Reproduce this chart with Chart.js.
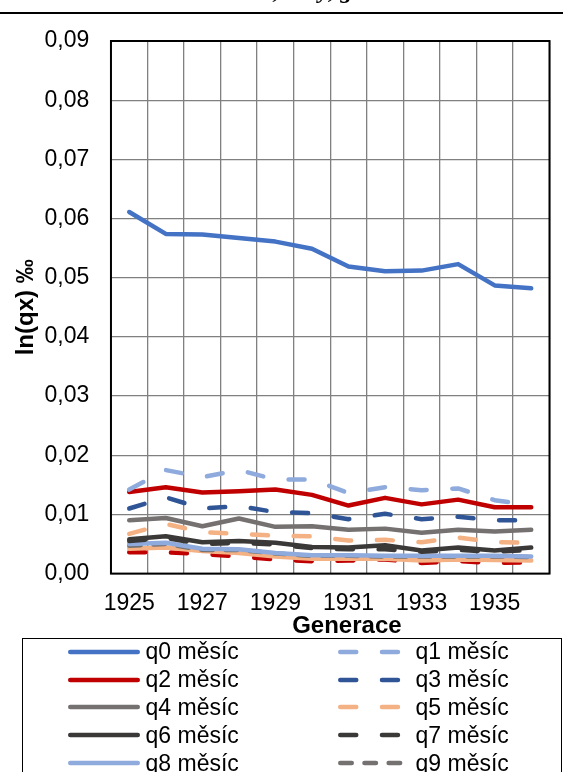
<!DOCTYPE html>
<html>
<head>
<meta charset="utf-8">
<script src="https://cdn.jsdelivr.net/npm/chart.js@4.4.0/dist/chart.umd.min.js"></script>
<style>
  html, body { margin: 0; padding: 0; background: #fff; overflow: hidden; }
  #stranka { position: relative; width: 563px; height: 772px; overflow: hidden; }
  #nadpis { position: absolute; left: 0; top: 0; width: 563px; height: 12px; border-bottom: 2px solid #000; overflow: hidden; }
  #nadpis span { position: absolute; left: 0; top: -22px; width: 563px; text-align: center; white-space: nowrap;
                 font: italic bold 24px/24px "Liberation Serif", serif; }
  #graf { position: absolute; left: 0; top: 0; }
  #legenda { position: absolute; left: 22px; top: 638px; width: 538px; height: 200px; border: 1.5px solid #000;
             font: 23px "Liberation Sans", Arial, sans-serif; color: #000; }
  .polozka { position: absolute; height: 28px; display: flex; align-items: center; white-space: nowrap; }
  .polozka svg { display: block; }
  .polozka span { margin-left: 6px; }
</style>
</head>
<body>
<div id="stranka">
  <canvas id="graf" width="563" height="641"></canvas>
  <div id="nadpis"><span>Úmrtnost dle měsíce věku, ženy, generace 1925–1936</span></div>
  <div id="legenda"></div>
</div>
<script>
// DATA: kvocienty úmrtnosti podle měsíce věku, generace 1925-1936
var roky = ['1925', '1926', '1927', '1928', '1929', '1930', '1931', '1932', '1933', '1934', '1935', '1936'];
var yPopisky = ['0,00', '0,01', '0,02', '0,03', '0,04', '0,05', '0,06', '0,07', '0,08', '0,09'];
var nazvy = ['q0 měsíc', 'q1 měsíc', 'q2 měsíc', 'q3 měsíc', 'q4 měsíc', 'q5 měsíc',
             'q6 měsíc', 'q7 měsíc', 'q8 měsíc', 'q9 měsíc', 'q10 měsíc', 'q11 měsíc'];

var q0 = [0.0611, 0.0574, 0.0573, 0.0567, 0.0561, 0.0549, 0.0519, 0.0511, 0.0512, 0.0523, 0.0487, 0.0482];
var q1 = [0.0142, 0.0175, 0.0163, 0.0175, 0.0159, 0.0159, 0.0136, 0.0146, 0.0141, 0.0144, 0.0124, 0.0116];
var q2 = [0.0138, 0.0146, 0.0137, 0.0139, 0.0142, 0.0133, 0.0115, 0.0128, 0.0117, 0.0125, 0.0112, 0.0112];
var q3 = [0.0110, 0.0129, 0.0110, 0.0114, 0.0104, 0.0102, 0.0092, 0.0101, 0.0092, 0.0096, 0.0090, 0.0090];
var q4 = [0.0090, 0.0094, 0.0080, 0.0093, 0.0079, 0.0080, 0.0074, 0.0076, 0.0069, 0.0074, 0.0071, 0.0074];
var q5 = [0.0067, 0.0084, 0.0070, 0.0067, 0.0064, 0.0063, 0.0056, 0.0057, 0.0053, 0.0061, 0.0053, 0.0052];
var q6 = [0.0058, 0.0063, 0.0053, 0.0055, 0.0052, 0.0045, 0.0044, 0.0048, 0.0039, 0.0044, 0.0039, 0.0044];
var q7 = [0.0055, 0.0060, 0.0050, 0.0052, 0.0049, 0.0043, 0.0041, 0.0041, 0.0037, 0.0040, 0.0037, 0.0040];
var q8 = [0.0050, 0.0052, 0.0042, 0.0041, 0.0035, 0.0031, 0.0031, 0.0030, 0.0030, 0.0030, 0.0030, 0.0029];
var q9 = [0.0047, 0.0050, 0.0040, 0.0040, 0.0034, 0.0030, 0.0030, 0.0029, 0.0029, 0.0029, 0.0029, 0.0028];
var q10 = [0.0042, 0.0044, 0.0038, 0.0035, 0.0029, 0.0025, 0.0025, 0.0025, 0.0022, 0.0024, 0.0023, 0.0022];
var q11 = [0.0036, 0.0036, 0.0033, 0.0029, 0.0024, 0.0021, 0.0022, 0.0024, 0.0018, 0.0021, 0.0018, 0.0019];

var rady = [q0, q1, q2, q3, q4, q5, q6, q7, q8, q9, q10, q11];

// styly car
var barvy = ['#4472C4', '#8FAADC', '#C00000', '#2F5597', '#767171', '#F4B183',
             '#3B3838', '#3B3838', '#8FAADC', '#767171', '#F4B183', '#C00000'];
var dlouhe = [16, 25.7];
var kratke = [11.5, 12.7];
var carky = [[], dlouhe, [], dlouhe, [], dlouhe, [], dlouhe, [], kratke, [], dlouhe];

var pismo = '"Liberation Sans", Arial, sans-serif';
Chart.defaults.color = '#000';
Chart.defaults.font.family = pismo;

var datasety = rady.map(function (data, i) {
  return {
    label: nazvy[i],
    data: data,
    borderColor: barvy[i],
    backgroundColor: barvy[i],
    borderWidth: 4.5,
    borderDash: carky[i],
    borderCapStyle: 'round',
    borderJoinStyle: 'round',
    pointRadius: 0,
    tension: 0,
    fill: false
  };
});

// ramecek kolem plochy grafu
var ramecek = {
  id: 'ramecek',
  beforeDatasetsDraw: function (chart) {
    var a = chart.chartArea, ctx = chart.ctx;
    ctx.save();
    ctx.strokeStyle = '#000';
    ctx.lineWidth = 2;
    ctx.strokeRect(a.left, a.top, a.right - a.left, a.bottom - a.top);
    ctx.restore();
  }
};

var ctx = document.getElementById('graf').getContext('2d');
var graf = new Chart(ctx, {
  type: 'line',
  data: { labels: roky, datasets: datasety },
  plugins: [ramecek],
  options: {
    responsive: false,
    animation: false,
    layout: { padding: { left: 8, right: 13.5, top: 41, bottom: 0 } },
    plugins: { legend: { display: false }, tooltip: { enabled: false } },
    scales: {
      x: {
        offset: true,
        grid: { offset: true, color: '#808080', lineWidth: 1.3, drawTicks: false },
        border: { display: false },
        ticks: {
          autoSkip: false, maxRotation: 0, padding: 16,
          font: { size: 23 },
          callback: function (v, i) { return i % 2 === 0 ? roky[i] : ''; }
        },
        // Chart.js pocita odsazeni popisku dvakrat, proto zaporny padding titulku
        // mezery na zacatku posunou titulek kousek doprava jako v Excelu
        title: { display: true, text: '     Generace', font: { size: 24, weight: 'bold' }, padding: { top: -21, bottom: 0 } }
      },
      y: {
        min: 0, max: 0.09,
        grid: { color: '#808080', lineWidth: 1.3, drawTicks: false },
        border: { display: false },
        ticks: {
          stepSize: 0.01, padding: 21.7,
          font: { size: 23 },
          callback: function (v, i) { return yPopisky[i]; }
        },
        title: { display: true, text: 'ln(qx) ‰', font: { size: 24, weight: 'bold' }, padding: { top: 4, bottom: -18 } }
      }
    }
  }
});

// legenda ve dvou sloupcich
var legenda = document.getElementById('legenda');
graf.data.datasets.forEach(function (ds, i) {
  var el = document.createElement('div');
  el.className = 'polozka';
  el.style.left = (i % 2 ? 314.5 : 44.5) + 'px';
  el.style.top = (Math.floor(i / 2) * 27.8 - 1.2) + 'px';
  var dash = ds.borderDash.length ? ds.borderDash.join(' ') : 'none';
  el.innerHTML = '<svg width="72" height="10"><line x1="2.25" y1="5" x2="69.75" y2="5" stroke="' + ds.borderColor +
    '" stroke-width="' + ds.borderWidth + '" stroke-linecap="round" stroke-dasharray="' + dash + '"/></svg><span>' + ds.label + '</span>';
  legenda.appendChild(el);
});
</script>
</body>
</html>
